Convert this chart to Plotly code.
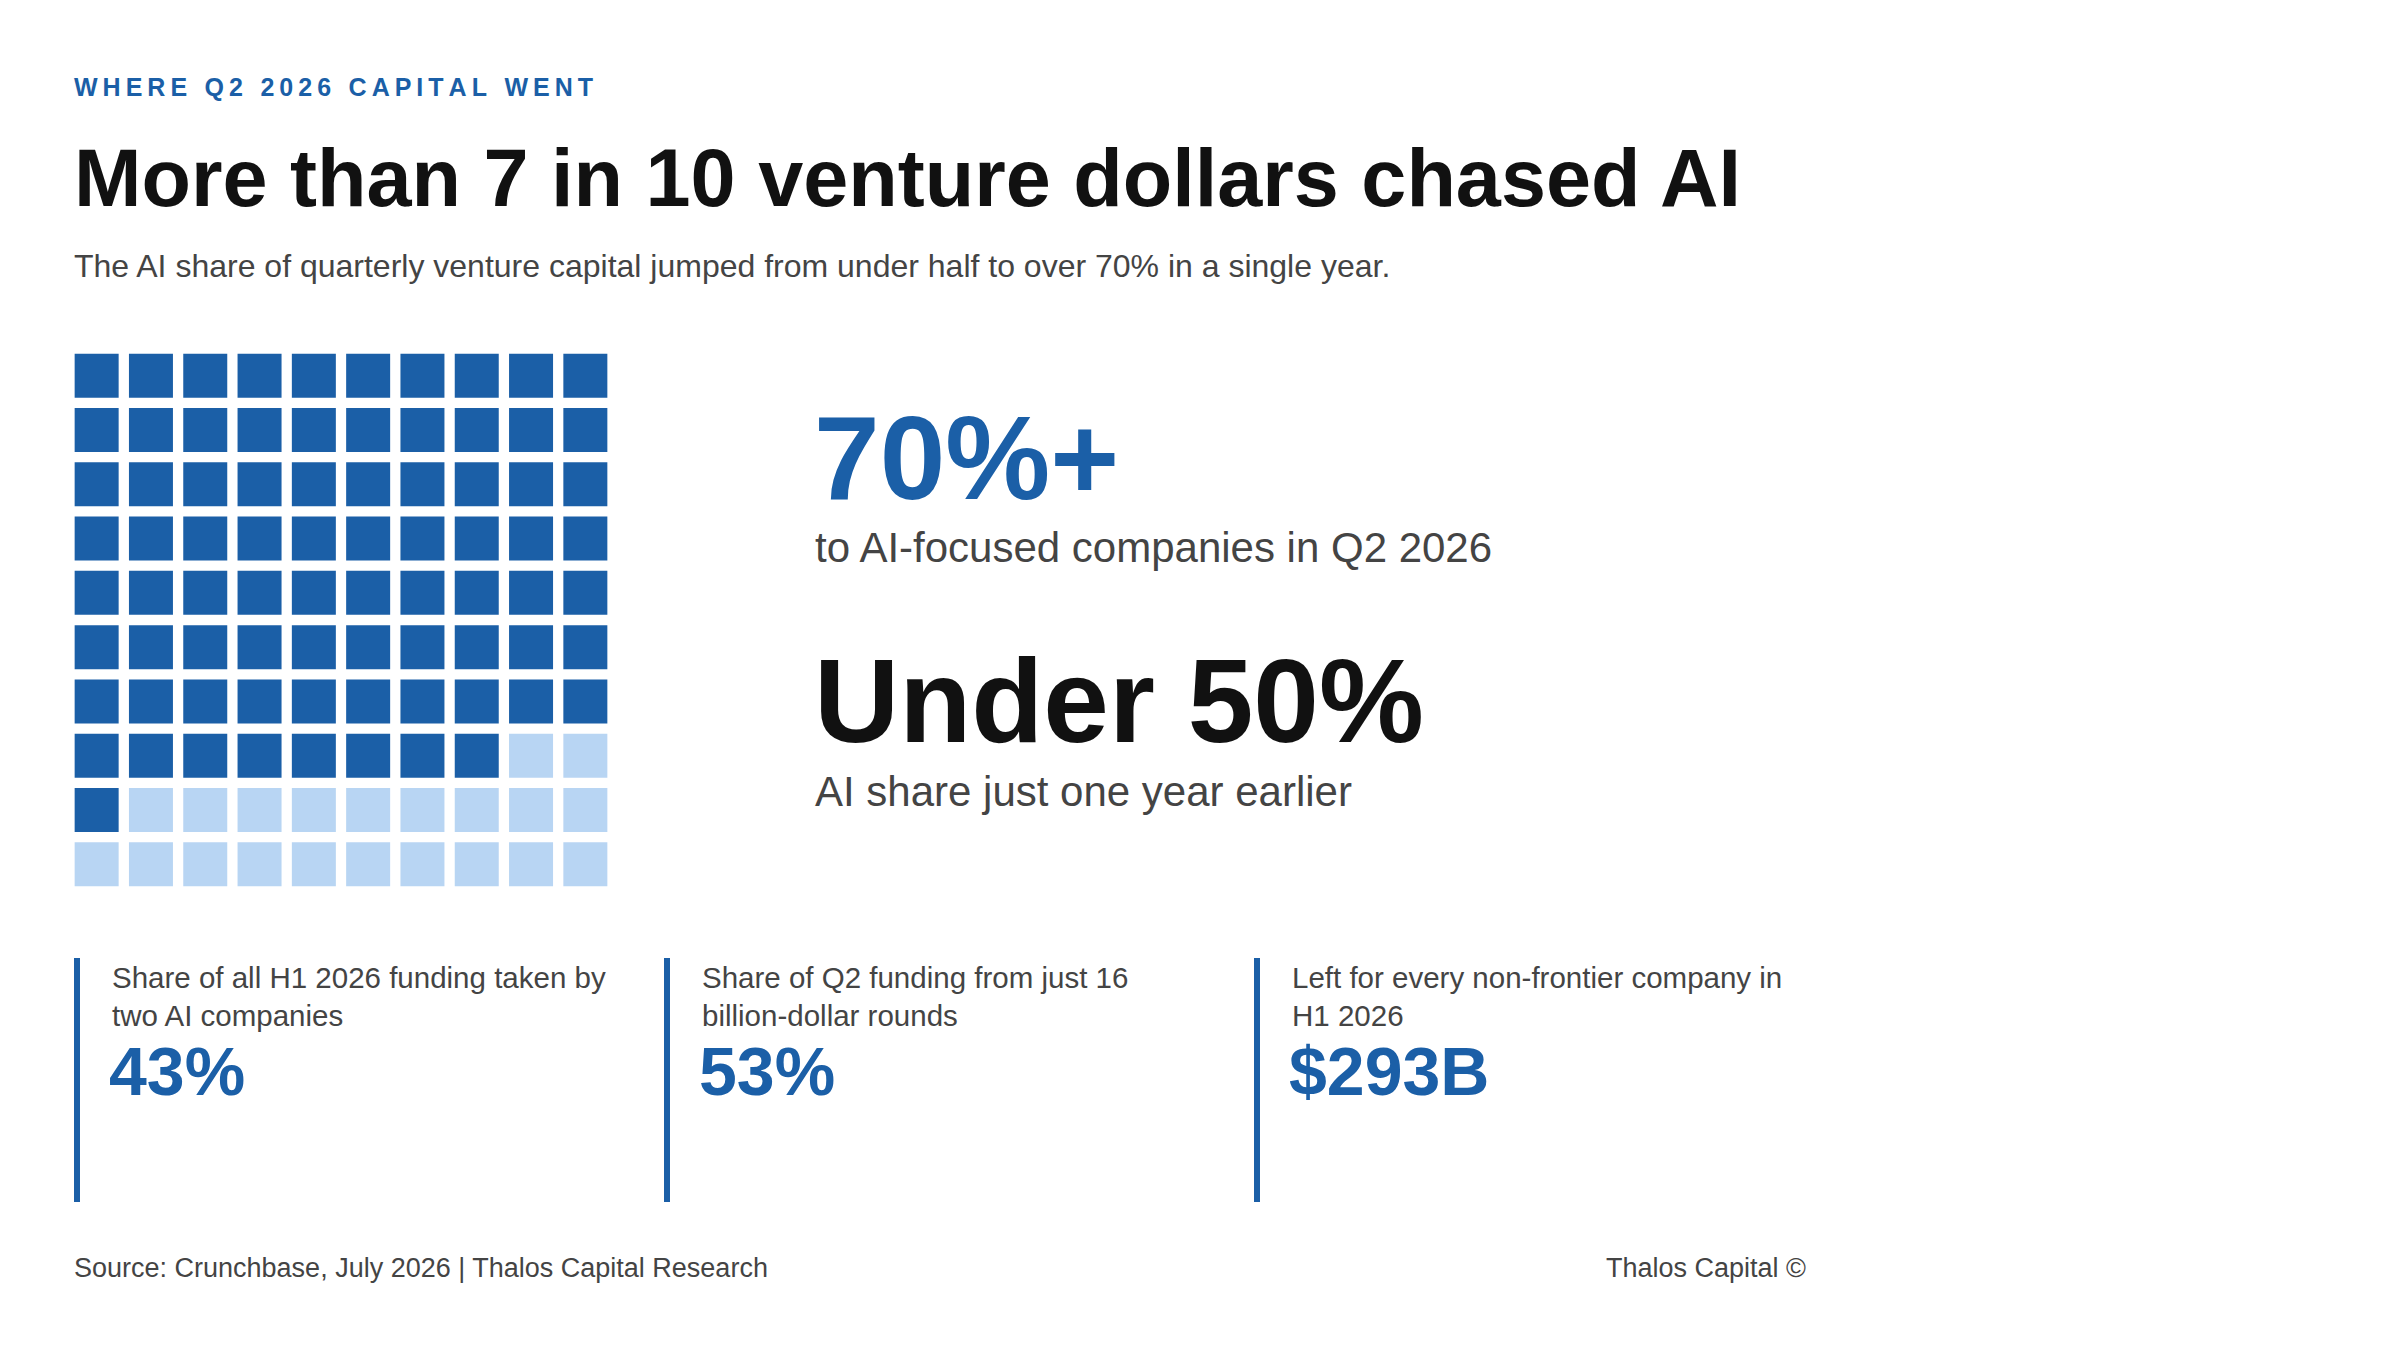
import plotly.graph_objects as go

N_COLS = 10
dark_per_row = [10, 10, 10, 10, 10, 10, 10, 8, 1, 0]
headline_value = "70%+"
headline_label = "to AI-focused companies in Q2 2026"
prior_value = "Under 50%"
prior_label = "AI share just one year earlier"
stat_labels = ["Share of all H1 2026 funding taken by<br>two AI companies",
               "Share of Q2 funding from just 16<br>billion-dollar rounds",
               "Left for every non-frontier company in<br>H1 2026"]
stat_values = ["43%", "53%", "$293B"]

DARK = "#1b5fa7"
LIGHT = "#b8d5f3"
GRAY = "#444444"
FONT = "Liberation Sans, Arial, sans-serif"
D = 11  # page offset compensation

x0, y0, pitch = 77 - D, 356 - D, 54.3
xs, ys, cs = [], [], []
for r, nd in enumerate(dark_per_row):
    for c in range(N_COLS):
        xs.append(x0 + pitch * c + pitch / 2 - 4.5)
        ys.append(y0 + pitch * r + pitch / 2 - 4.5)
        cs.append(DARK if c < nd else LIGHT)

fig = go.Figure(go.Scatter(x=xs, y=ys, mode="markers", hoverinfo="skip",
                           marker=dict(symbol="square", size=44, color=cs, line=dict(width=0))))

ann = []
def t(x, y, text, size, color=GRAY, bold=False, xanchor="left", yanchor="middle"):
    ann.append(dict(x=x - D, y=y - D, xref="x", yref="y", text=f"<b>{text}</b>" if bold else text,
                    showarrow=False, xanchor=xanchor, yanchor=yanchor, align="left",
                    font=dict(family=FONT, size=size, color=color)))

t(75, 90, "W H E R E   Q 2   2 0 2 6   C A P I T A L   W E N T".replace("   ", "\u2002 ").replace(" ", "\u2009"), 25, DARK, True)
t(75, 181, "More than 7 in 10 venture dollars chased AI", 81, "#111111", True)
t(75, 269, "The AI share of quarterly venture capital jumped from under half to over 70% in a single year.", 32)
t(815, 461, headline_value, 118, DARK, True)
t(816, 550, headline_label, 42)
t(815, 704, prior_value, 118, "#111111", True)
t(816, 794, prior_label, 42)

shapes = []
for k, bx in enumerate([80, 670, 1260]):
    shapes.append(dict(type="rect", xref="x", yref="y", x0=bx - 3 - D, x1=bx + 3 - D, y0=961 - D, y1=1205 - D,
                       fillcolor=DARK, line=dict(width=0)))
    t(bx + 33, 962, stat_labels[k], 29.5, GRAY, yanchor="top")
    t(bx + 30, 1074, stat_values[k], 68, DARK, True)

t(75, 1271, "Source: Crunchbase, July 2026 | Thalos Capital Research", 27)
t(1811, 1271, "Thalos Capital ©", 27, xanchor="right")

fig.update_layout(width=2400, height=1350, margin=dict(l=0, r=0, t=0, b=0),
                  paper_bgcolor="white", plot_bgcolor="white", showlegend=False,
                  xaxis=dict(range=[0, 2400], visible=False, fixedrange=True),
                  yaxis=dict(range=[1350, 0], visible=False, fixedrange=True),
                  annotations=ann, shapes=shapes)
fig.write_html("out.html")
